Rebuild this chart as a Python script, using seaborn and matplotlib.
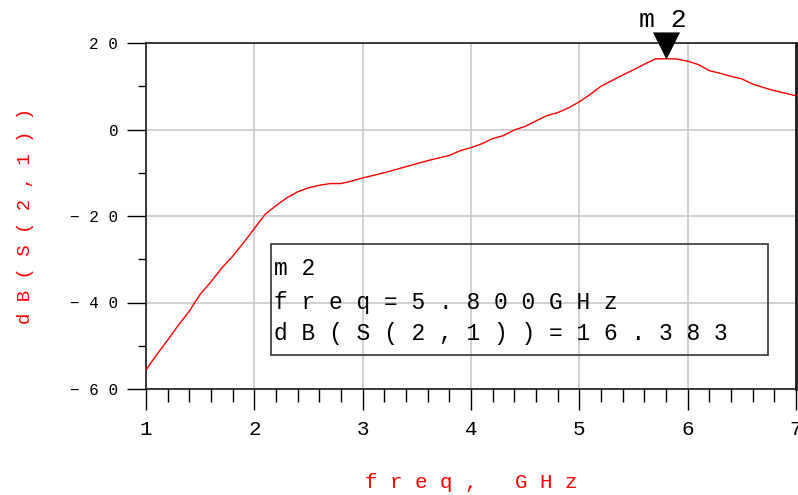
import numpy as np
import pandas as pd
import matplotlib
matplotlib.use("Agg")
import matplotlib.pyplot as plt
from matplotlib.patches import Rectangle
from matplotlib.ticker import MultipleLocator, FixedLocator, FixedFormatter
import seaborn as sns

# Swept S21 response (dB) at 0.1 GHz steps from 1 to 7 GHz
freq_ghz = np.round(np.arange(1.0, 7.01, 0.1), 1)
s21_db = [
    -55.6, -52.0, -48.7, -45.2, -42.0, -38.1, -35.2, -32.0, -29.3, -26.2,
    -22.9, -19.6, -17.6, -15.8, -14.4, -13.5, -12.9, -12.5, -12.5, -11.9,
    -11.2, -10.6, -10.0, -9.3, -8.6, -7.9, -7.2, -6.6, -6.0, -4.9,
    -4.2, -3.3, -2.1, -1.4, -0.1, 0.7, 2.0, 3.2, 3.9, 5.0,
    6.4, 8.1, 10.0, 11.3, 12.6, 13.8, 15.1, 16.3, 16.383, 16.3,
    15.8, 15.0, 13.6, 13.0, 12.3, 11.7, 10.5, 9.7, 9.0, 8.4, 7.8,
]

# Marker m2
marker_name = "m2"
marker_freq = 5.8
marker_db = 16.383

x_ticks = [1, 2, 3, 4, 5, 6, 7]
y_ticks = [-60, -40, -20, 0, 20]
x_label = "freq, GHz"
y_label = "dB(S(2,1))"


def spaced(s):
    """Wide letter spacing in the style of the instrument display."""
    return " ".join(s.replace("-", "\u2212"))


sns.set_style("white")
plt.rcParams["font.family"] = ["Liberation Mono", "DejaVu Sans Mono"]

fig = plt.figure(figsize=(7.98, 4.95), dpi=100)
ax = fig.add_axes([146 / 798, 1 - 389 / 495, 650 / 798, 346 / 495])

df = pd.DataFrame({"freq": freq_ghz, "db": s21_db})
sns.lineplot(data=df, x="freq", y="db", ax=ax, color="#ff0000", linewidth=1.0,
             zorder=3)

ax.set_xlim(1, 7)
ax.set_ylim(-60, 20)

# Ticks
ax.xaxis.set_major_locator(FixedLocator(x_ticks))
ax.xaxis.set_major_formatter(FixedFormatter([spaced(str(v)) for v in x_ticks]))
ax.xaxis.set_minor_locator(MultipleLocator(0.2))
ax.yaxis.set_major_locator(FixedLocator(y_ticks))
ax.yaxis.set_major_formatter(FixedFormatter([spaced(str(v)) for v in y_ticks]))
ax.yaxis.set_minor_locator(MultipleLocator(10))

ax.tick_params(axis="x", which="major", direction="out", length=15, width=1,
               color="black", pad=7, labelsize=15, labelcolor="black")
ax.tick_params(axis="x", which="minor", direction="out", length=9, width=1,
               color="black")
ax.tick_params(axis="y", which="major", direction="out", length=14, width=1,
               color="black", pad=6, labelsize=11.5, labelcolor="black")
ax.tick_params(axis="y", which="minor", direction="out", length=6, width=1,
               color="black")
ax.tick_params(bottom=True, left=True, which="both")

ax.grid(True, which="major", color="#c4c4c4", linewidth=1.1)
ax.set_axisbelow(True)

for side in ["left", "bottom", "top", "right"]:
    ax.spines[side].set_visible(True)
    ax.spines[side].set_color("#1a1a1a")
    ax.spines[side].set_linewidth(1.2)
ax.spines["right"].set_linewidth(2)

ax.set_xlabel("")
ax.set_ylabel("")
fig.text(471 / 798, 1 - 483 / 495, spaced(x_label), color="#ff0000",
         fontsize=15, ha="center", va="center")
fig.text(26 / 798, 1 - 216 / 495, spaced(y_label), color="#ff0000",
         fontsize=13.6, ha="center", va="center", rotation=90)

# Marker triangle with its tip on the trace
tri = [(-1, 2), (1, 2), (0, 0)]
ax.plot([marker_freq], [marker_db], linestyle="none", marker=tri,
        markersize=39, color="black", markeredgewidth=0, zorder=5,
        clip_on=False)
ax.annotate(spaced(marker_name), xy=(marker_freq, marker_db),
            xytext=(-2, 28), textcoords="offset points", ha="center",
            va="center", fontsize=19, color="black", annotation_clip=False)

# Marker readout box
ax.add_patch(Rectangle((0.192, 0.098), 0.765, 0.321, transform=ax.transAxes,
                       fill=False, edgecolor="#333333", linewidth=1.2,
                       zorder=4))
readout = [
    marker_name,
    f"freq={marker_freq:.3f}GHz",
    f"dB(S(2,1))={marker_db:.3f}",
]
for text, yy in zip(readout, [0.347, 0.249, 0.160]):
    ax.text(0.197, yy, spaced(text), transform=ax.transAxes, ha="left",
            va="center", fontsize=16.5, color="black", zorder=4)

fig.savefig("out.png", dpi=100)
